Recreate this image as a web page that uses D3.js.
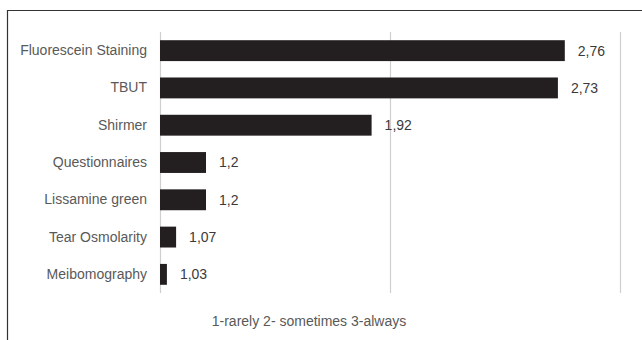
<!DOCTYPE html>
<html>
<head>
<meta charset="utf-8">
<script src="https://cdn.jsdelivr.net/npm/d3@7"></script>
<style>
  body { margin: 0; background: #fff; }
  svg { display: block; font-family: "Liberation Sans", Arial, sans-serif; }
</style>
</head>
<body>
<div id="chart"></div>
<script>
const methods = ['Fluorescein Staining', 'TBUT', 'Shirmer', 'Questionnaires', 'Lissamine green', 'Tear Osmolarity', 'Meibomography'];
const scores = [2.76, 2.73, 1.92, 1.2, 1.2, 1.07, 1.03];
const gridValues = [1, 2, 3];
const axisTitle = '1-rarely 2- sometimes 3-always';

const data = methods.map((m, i) => ({ method: m, score: scores[i] }));

const width = 642;
const height = 340;
const margin = { top: 32, right: 22, bottom: 47, left: 160 };
const innerW = width - margin.left - margin.right;
const innerH = height - margin.top - margin.bottom;

const locale = d3.formatLocale({ decimal: ',', thousands: '.', grouping: [3], currency: ['', ''] });
const fmt = v => locale.format('~g')(v);

const svg = d3.select('#chart')
    .append('svg')
    .attr('width', width)
    .attr('height', height);

// outer frame (only top and left edges visible in the crop)
svg.append('path')
    .attr('d', `M7.5,${height} V10.5 H${width}`)
    .attr('fill', 'none')
    .attr('stroke', '#333')
    .attr('stroke-width', 1.2);

const g = svg.append('g')
    .attr('transform', `translate(${margin.left}, ${margin.top})`);

const xScale = d3.scaleLinear()
    .domain([1, 3])
    .range([0, innerW]);

const yScale = d3.scaleBand()
    .domain(methods)
    .range([0, innerH])
    .paddingInner(0.44)
    .paddingOuter(0.22);

g.selectAll('.grid')
    .data(gridValues)
    .enter().append('line')
    .attr('class', 'grid')
    .attr('x1', d => Math.round(xScale(d)) + 0.5)
    .attr('x2', d => Math.round(xScale(d)) + 0.5)
    .attr('y1', 0)
    .attr('y2', innerH)
    .attr('stroke', '#cfcfcf')
    .attr('stroke-width', 1.2);

g.append('g')
    .call(d3.axisLeft(yScale).tickSize(0).tickPadding(13))
    .call(ax => ax.select('.domain').remove())
    .selectAll('text')
    .style('font-size', '14px')
    .style('fill', '#595959')
    .style('font-family', '"Liberation Sans", Arial, sans-serif');

g.selectAll('.bar')
    .data(data)
    .enter().append('rect')
    .attr('class', 'bar')
    .attr('x', xScale(1))
    .attr('y', d => yScale(d.method))
    .attr('width', d => xScale(d.score) - xScale(1))
    .attr('height', yScale.bandwidth())
    .attr('fill', '#231f20');

g.selectAll('.bar-label')
    .data(data)
    .enter().append('text')
    .attr('class', 'bar-label')
    .attr('x', d => xScale(d.score) + 13)
    .attr('y', d => yScale(d.method) + yScale.bandwidth() / 2)
    .attr('dy', '0.35em')
    .style('font-size', '14px')
    .style('fill', '#3a3a3a')
    .text(d => fmt(d.score));

svg.append('text')
    .attr('x', 309)
    .attr('y', 326)
    .attr('text-anchor', 'middle')
    .style('font-size', '14px')
    .style('fill', '#595959')
    .text(axisTitle);
</script>
</body>
</html>
